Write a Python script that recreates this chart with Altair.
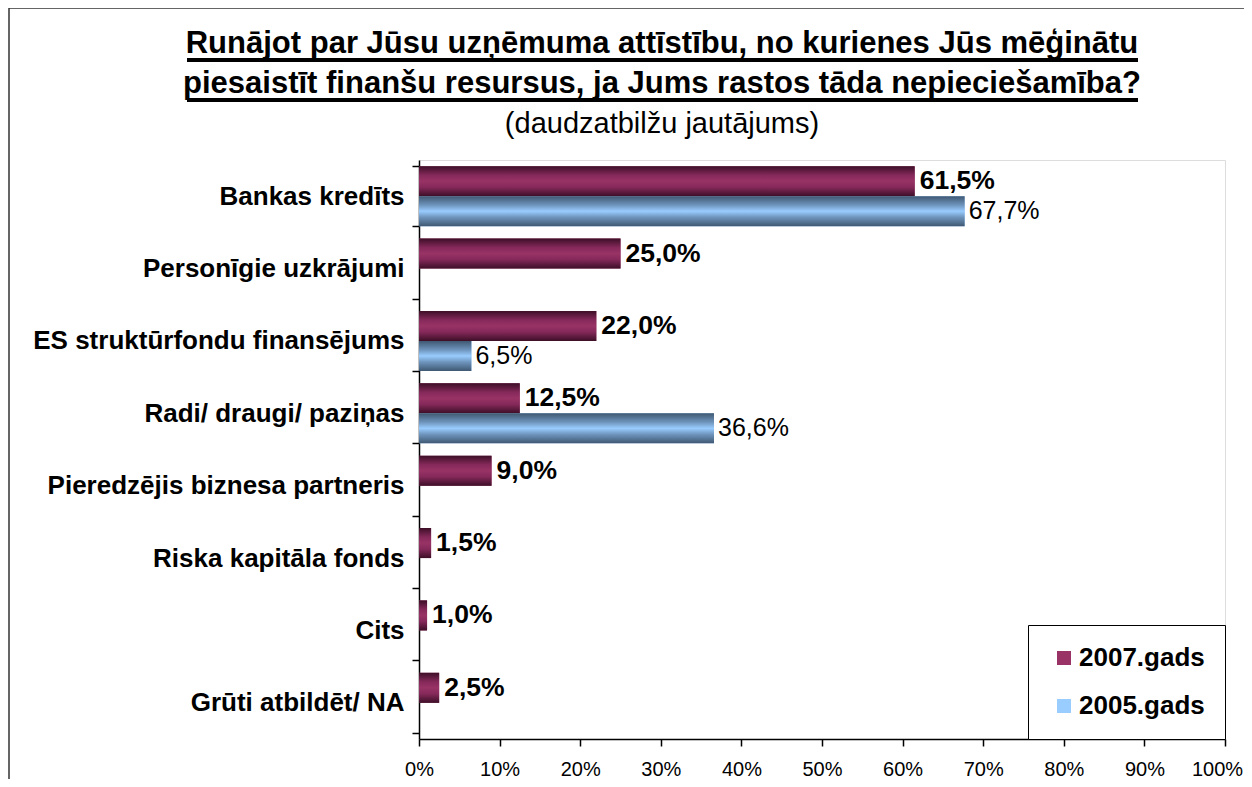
import altair as alt
import pandas as pd

categories = [
    "Bankas kredīts",
    "Personīgie uzkrājumi ",
    "ES struktūrfondu finansējums",
    "Radi/ draugi/ paziņas",
    "Pieredzējis biznesa partneris",
    "Riska kapitāla fonds",
    "Cits",
    "Grūti atbildēt/ NA",
]
v2007 = [61.5, 25.0, 22.0, 12.5, 9.0, 1.5, 1.0, 2.5]
v2005 = [67.7, None, 6.5, 36.6, None, None, None, None]
series = ["2007.gads", "2005.gads"]
x_ticks = [0, 10, 20, 30, 40, 50, 60, 70, 80, 90, 100]

title_lines = [
    "Runājot par Jūsu uzņēmuma attīstību, no kurienes Jūs mēģinātu",
    "piesaistīt finanšu resursus, ja Jums rastos tāda nepieciešamība?",
]
subtitle = "(daudzatbilžu jautājums)"

rows = []
for c, a, b in zip(categories, v2007, v2005):
    rows.append({"cat": c, "year": series[0], "value": a})
    if b is not None:
        rows.append({"cat": c, "year": series[1], "value": b})
df = pd.DataFrame(rows)
df["label"] = df["value"].map(lambda v: f"{v:.1f}%".replace(".", ","))

FONT = "Liberation Sans"

grad07 = alt.Gradient(
    gradient="linear", x1=0, y1=0, x2=0, y2=1,
    stops=[
        alt.GradientStop(offset=0, color="#3d0f27"),
        alt.GradientStop(offset=0.3, color="#85295a"),
        alt.GradientStop(offset=0.5, color="#993366"),
        alt.GradientStop(offset=0.7, color="#85295a"),
        alt.GradientStop(offset=1, color="#3d0f27"),
    ],
)
grad05 = alt.Gradient(
    gradient="linear", x1=0, y1=0, x2=0, y2=1,
    stops=[
        alt.GradientStop(offset=0, color="#3f5872"),
        alt.GradientStop(offset=0.3, color="#6f95bd"),
        alt.GradientStop(offset=0.5, color="#99ccff"),
        alt.GradientStop(offset=0.7, color="#6f95bd"),
        alt.GradientStop(offset=1, color="#3f5872"),
    ],
)

base = alt.Chart(df).encode(
    y=alt.Y(
        "cat:N", sort=categories, title=None,
        scale=alt.Scale(paddingInner=0.17, paddingOuter=0.085),
        axis=alt.Axis(
            labelFont=FONT, labelFontSize=26, labelFontWeight="bold",
            labelColor="black", labelPadding=8, labelLimit=420,
            tickSize=7, tickColor="black", domainColor="black",
            tickWidth=1.5, domainWidth=1.5, tickBand="extent", grid=False,
        ),
    ),
    x=alt.X(
        "value:Q", title=None,
        scale=alt.Scale(domain=[0, 100], nice=False),
        axis=alt.Axis(
            values=x_ticks, labelExpr="datum.value + '%'",
            labelFont=FONT, labelFontSize=20, labelColor="black",
            labelPadding=13, tickSize=7, tickColor="black", labelFlush=False,
            labelOffset={"expr": "datum.value == 100 ? -8 : 0"},
            domainColor="black", tickWidth=1.5, domainWidth=1.5, grid=False,
        ),
    ),
    yOffset=alt.YOffset(
        "year:N", sort=series,
        scale=alt.Scale(domain=series, paddingInner=0, paddingOuter=0),
    ),
)

legend_bars = base.mark_bar().encode(
    color=alt.Color(
        "year:N",
        scale=alt.Scale(domain=series, range=["#993366", "#99ccff"]),
        legend=alt.Legend(
            title=None, orient="bottom-right", offset=0,
            labelFont=FONT, labelFontSize=26, labelFontWeight="bold",
            labelColor="black", symbolType="square", symbolSize=196,
            symbolStrokeWidth=0, padding=20, rowPadding=22,
            labelOffset=2, symbolOffset=3,
            fillColor="white", strokeColor="black",
        ),
    )
)
bars07 = base.mark_bar(color=grad07).transform_filter(alt.datum.year == series[0])
bars05 = base.mark_bar(color=grad05).transform_filter(alt.datum.year == series[1])

text07 = base.mark_text(
    align="left", baseline="middle", dx=5, font=FONT, fontSize=26.5,
    fontWeight="bold", color="black",
).encode(text="label:N").transform_filter(alt.datum.year == series[0])
text05 = base.mark_text(
    align="left", baseline="middle", dx=4, font=FONT, fontSize=25,
    color="black",
).encode(text="label:N").transform_filter(alt.datum.year == series[1])

deco = pd.DataFrame({"u": [1]})
frame = alt.Chart(deco).mark_rect(fill=None, stroke="#333333", strokeWidth=1.5).encode(
    x=alt.value(-410), x2=alt.value(860), y=alt.value(-152), y2=alt.value(680)
)
ul1 = alt.Chart(deco).mark_rule(color="black", strokeWidth=4).encode(
    x=alt.value(-232), x2=alt.value(719), y=alt.value(-100)
)
ul2 = alt.Chart(deco).mark_rule(color="black", strokeWidth=4).encode(
    x=alt.value(-232), x2=alt.value(719), y=alt.value(-60)
)

chart = alt.layer(
    frame, legend_bars, bars07, bars05, text07, text05, ul1, ul2
).properties(
    width=806,
    height=579,
    autosize=alt.AutoSizeParams(type="none"),
    padding={"left": 411, "top": 152, "right": 19, "bottom": 40},
    title=alt.TitleParams(
        text=title_lines, subtitle=subtitle,
        font=FONT, fontSize=31, fontWeight="bold", color="black",
        subtitleFont=FONT, subtitleFontSize=29, subtitleColor="black",
        anchor="middle", dx=-160, offset=-133, lineHeight=40,
        subtitlePadding=10,
    ),
).configure_view(stroke="#8c8c8c", strokeWidth=2).configure(background="white")

chart.save("out.html", embed_options={"renderer": "svg", "actions": False})
